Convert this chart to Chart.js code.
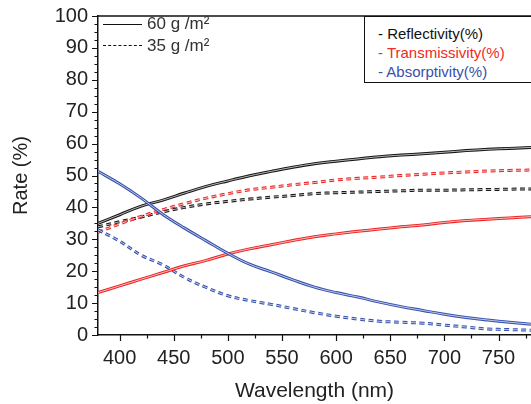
<!DOCTYPE html>
<html>
<head>
<meta charset="utf-8">
<script src="https://cdn.jsdelivr.net/npm/chart.js@4.4.1/dist/chart.umd.min.js"></script>
<style>
  body { margin: 0; background: #fff; }
  #wrap { position: relative; width: 531px; height: 404px; overflow: hidden; font-family: "Liberation Sans", Arial, sans-serif; }
  canvas { position: absolute; left: 0; top: 0; }
  .sample { position: absolute; left: 103px; width: 39px; height: 0; border-top: 1.5px solid #111; }
  .sample.dash { border-top: 1.5px dashed #111; }
  .lg1 { position: absolute; left: 147px; font-size: 17px; color: #333; line-height: 20px; }
  #lg2 { position: absolute; left: 364px; top: 16px; width: 180px; height: 67px; border: 1.5px solid #111; box-sizing: border-box; background: #fff; font-size: 15px; line-height: 19px; padding: 7px 0 0 13px; }
</style>
</head>
<body>
<div id="wrap">
  <canvas id="chart" width="531" height="404"></canvas>
  <div class="sample" style="top:24px"></div>
  <div class="lg1" style="top:14px">60 g /m²</div>
  <div class="sample dash" style="top:45px"></div>
  <div class="lg1" style="top:36px">35 g /m²</div>
  <div id="lg2">
    <div style="color:#111">- Reflectivity(%)</div>
    <div style="color:#ee2b24">- Transmissivity(%)</div>
    <div style="color:#3a4fa8">- Absorptivity(%)</div>
  </div>
</div>
<script>
var wavelength = [380, 400, 420, 440, 460, 480, 500, 520, 540, 560, 580, 600, 620, 640, 660, 680, 700, 720, 740, 760, 780];

// 60 g/m2 (solid)
var refl60  = [35.0, 37.7, 40.4, 42.3, 44.5, 46.6, 48.3, 49.9, 51.3, 52.6, 53.7, 54.5, 55.2, 55.9, 56.4, 56.8, 57.3, 57.8, 58.2, 58.5, 58.8];
var trans60 = [13.3, 15.4, 17.5, 19.6, 21.7, 23.4, 25.4, 27.0, 28.3, 29.6, 30.8, 31.7, 32.5, 33.2, 33.9, 34.5, 35.3, 35.9, 36.3, 36.7, 37.1];
var abs60   = [51.3, 47.4, 42.9, 37.8, 33.5, 29.5, 25.6, 22.2, 19.8, 17.3, 15.0, 13.3, 11.9, 10.3, 8.9, 7.7, 6.5, 5.5, 4.7, 4.0, 3.4];

// 35 g/m2 (dashed)
var refl35  = [33.9, 35.5, 37.0, 38.6, 40.0, 41.1, 41.9, 42.6, 43.2, 43.7, 44.3, 44.6, 44.8, 45.0, 45.2, 45.4, 45.4, 45.5, 45.6, 45.7, 45.8];
var trans35 = [32.2, 34.8, 37.2, 39.3, 41.2, 42.9, 44.3, 45.5, 46.3, 47.1, 47.8, 48.6, 49.1, 49.5, 50.0, 50.4, 50.8, 51.1, 51.4, 51.6, 51.7];
var abs35   = [33.0, 29.4, 25.0, 22.0, 18.0, 14.9, 12.3, 10.8, 9.6, 8.3, 7.0, 5.9, 5.0, 4.3, 4.0, 3.7, 3.1, 2.5, 1.9, 1.7, 1.5];

var yTicks = [0, 10, 20, 30, 40, 50, 60, 70, 80, 90, 100];
var xTicks = [400, 450, 500, 550, 600, 650, 700, 750];

var BLACK = '#151515', RED = '#ee2424', BLUE = '#3550ad';

var datasets = [];
var k = 0;
function addCurve(values, color, dashed){
  var pts = values.map(function(v, i){ return {x: wavelength[i], y: v}; });
  var dash = dashed ? [5, 3.5] : [];
  // white core on top gives the doubled-line look
  datasets.push({data: pts, borderColor: 'rgba(255,255,255,0.7)', borderWidth: 1, borderDash: dash,
    pointRadius: 0, tension: 0.4, order: 2*k});
  datasets.push({data: pts, borderColor: color, borderWidth: 3, borderDash: dash,
    pointRadius: 0, tension: 0.4, order: 2*k + 1});
  k++;
}
addCurve(abs60, BLUE, false);
addCurve(trans60, RED, false);
addCurve(refl60, BLACK, false);
addCurve(abs35, BLUE, true);
addCurve(trans35, RED, true);
addCurve(refl35, BLACK, true);

// ticks drawn on the outside, with minor ticks
var tickPlugin = {
  id: 'ticks',
  afterDraw: function(chart){
    var ctx = chart.ctx, x = chart.scales.x, y = chart.scales.y, a = chart.chartArea;
    ctx.save();
    ctx.strokeStyle = '#111';
    ctx.lineWidth = 1.2;
    ctx.beginPath();
    for (var v = 0; v <= 100; v += 2.5){
      var py = Math.round(y.getPixelForValue(v)) + 0.5;
      var len = (v % 10 === 0) ? 6 : 3.5;
      ctx.moveTo(a.left - len, py); ctx.lineTo(a.left, py);
    }
    for (var w = 400; w <= 780; w += 25){
      var px = Math.round(x.getPixelForValue(w)) + 0.5;
      var l2 = (w % 50 === 0) ? 6 : 3.5;
      ctx.moveTo(px, a.bottom); ctx.lineTo(px, a.bottom + l2);
    }
    ctx.stroke();
    ctx.lineWidth = 1.5;
    ctx.beginPath();
    ctx.moveTo(a.left, a.top); ctx.lineTo(a.right, a.top);
    ctx.stroke();
    ctx.restore();
  }
};

new Chart(document.getElementById('chart'), {
  type: 'line',
  data: {datasets: datasets},
  plugins: [tickPlugin],
  options: {
    responsive: false,
    animation: false,
    devicePixelRatio: 1,
    layout: {padding: {top: 16, right: 0, left: 0, bottom: 0}},
    plugins: {legend: {display: false}, tooltip: {enabled: false}},
    scales: {
      x: {
        type: 'linear', min: 380, max: 780,
        afterBuildTicks: function(s){ s.ticks = xTicks.map(function(v){ return {value: v}; }); },
        afterFit: function(s){ s.height = 69; s.paddingLeft = 0; s.paddingRight = 0; },
        grid: {display: false, drawTicks: false},
        border: {display: true, color: '#111', width: 1.5},
        ticks: {color: '#222', font: {family: '"Liberation Sans", Arial, sans-serif', size: 20}, padding: 11, maxRotation: 0},
        title: {display: true, text: 'Wavelength (nm)', color: '#222',
          font: {family: '"Liberation Sans", Arial, sans-serif', size: 21}, padding: {top: 4, bottom: 0}}
      },
      y: {
        type: 'linear', min: 0, max: 100,
        afterBuildTicks: function(s){ s.ticks = yTicks.map(function(v){ return {value: v}; }); },
        afterFit: function(s){ s.width = 98; s.paddingTop = 0; s.paddingBottom = 0; },
        grid: {display: false, drawTicks: false},
        border: {display: true, color: '#111', width: 1.5},
        ticks: {color: '#222', font: {family: '"Liberation Sans", Arial, sans-serif', size: 20}, padding: 10},
        title: {display: true, text: 'Rate (%)', color: '#222',
          font: {family: '"Liberation Sans", Arial, sans-serif', size: 20}, padding: {top: 9, bottom: 0}}
      }
    }
  }
});
</script>
</body>
</html>
